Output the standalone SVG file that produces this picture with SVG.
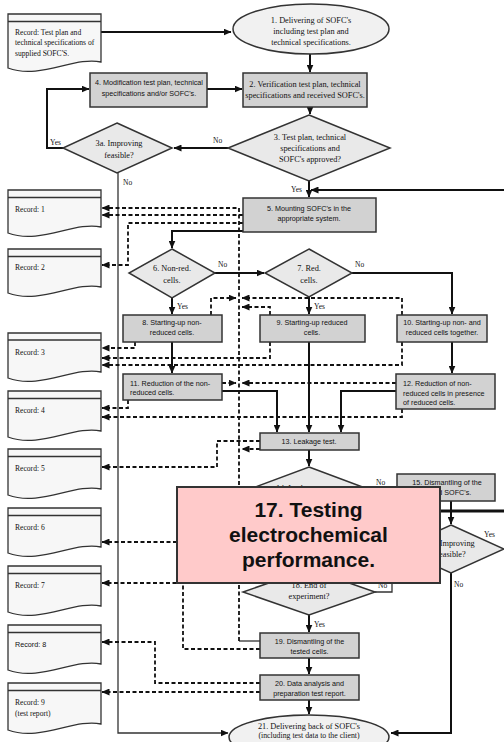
<svg xmlns="http://www.w3.org/2000/svg" width="504" height="742" viewBox="0 0 504 742">
<style>
.box{fill:#d2d2d2;stroke:#333;stroke-width:1.5}
.dia{fill:#e9e9e9;stroke:#333;stroke-width:1.5}
.ell{fill:#f1f1f1;stroke:#333;stroke-width:1.5}
.rec{fill:#f7f7f7;stroke:#333;stroke-width:1.3}
.hl{fill:none;stroke:#333;stroke-width:1.3}
.ln{fill:none;stroke:#111;stroke-width:2}
.thk{fill:none;stroke:#111;stroke-width:3}
.thin{fill:none;stroke:#333;stroke-width:1.3}
.dl{fill:none;stroke:#111;stroke-width:1.8;stroke-dasharray:4 2.5}
.sans{font-family:"Liberation Sans",Arial,sans-serif;font-size:7.2px;fill:#111}
.serif{font-family:"Liberation Serif","Times New Roman",serif;font-size:8.3px;fill:#111}
.rt{font-family:"Liberation Serif","Times New Roman",serif;font-size:7.6px;fill:#111}
.lbl{font-family:"Liberation Serif","Times New Roman",serif;font-size:7.5px;fill:#111}
.c{text-anchor:middle}
.big{font-family:"Liberation Sans",Arial,sans-serif;font-weight:bold;font-size:21px;fill:#111;text-anchor:middle}
</style>
<defs>
<marker id="ah" markerUnits="userSpaceOnUse" markerWidth="8" markerHeight="7" refX="7.5" refY="3.5" orient="auto">
<path d="M0,0 L8,3.5 L0,7 z" fill="#111"/>
</marker>
</defs>

<g id="connectors">
<path class="ln" d="M101,32 H231" marker-end="url(#ah)"/>
<path class="ln" d="M310,54 V72" marker-end="url(#ah)"/>
<path class="ln" d="M207,89 H242" marker-end="url(#ah)"/>
<path class="ln" d="M310,107 V114" marker-end="url(#ah)"/>
<path class="ln" d="M228,148 H174" marker-end="url(#ah)"/>
<path class="ln" d="M63,148 H47 V89 H89" marker-end="url(#ah)"/>
<path class="thin" d="M118,173 V733 H228" marker-end="url(#ah)"/>
<path class="ln" d="M309,181 V197" marker-end="url(#ah)"/>
<path class="ln" d="M504,190 H311" stroke-width="2.4" marker-end="url(#ah)"/>
<path class="ln" d="M243,231 H172 V248" marker-end="url(#ah)"/>
<path class="ln" d="M215,273 H264" marker-end="url(#ah)"/>
<path class="ln" d="M172,298 V314" marker-end="url(#ah)"/>
<path class="ln" d="M309,297 V314" marker-end="url(#ah)"/>
<path class="ln" d="M352,273 H452 V314" marker-end="url(#ah)"/>
<path class="ln" d="M172,342 V373" marker-end="url(#ah)"/>
<path class="ln" d="M452,342 V373" marker-end="url(#ah)"/>
<path class="ln" d="M309,342 V432" marker-end="url(#ah)"/>
<path class="ln" d="M222,391 H277 V432" marker-end="url(#ah)"/>
<path class="ln" d="M396,391 H341 V432" marker-end="url(#ah)"/>
<path class="ln" d="M309,450 V466" marker-end="url(#ah)"/>
<path class="ln" d="M384,495 H396" marker-end="url(#ah)"/>
<path class="ln" d="M451,501 V524" marker-end="url(#ah)"/>
<path class="thk" d="M440,511 H504"/>
<path class="ln" d="M451,573 V733 H391" marker-end="url(#ah)"/>
<path class="thin" d="M375,592 H392 V575"/>
<path class="ln" d="M309,615 V632" marker-end="url(#ah)"/>
<path class="ln" d="M309,658 V674" marker-end="url(#ah)"/>
<path class="ln" d="M309,700 V714" marker-end="url(#ah)"/>
<path class="thin" d="M260,641 H239"/>
<path class="dl" d="M239,641 V208 H102" marker-end="url(#ah)"/>
<path class="dl" d="M243,215 H102" marker-end="url(#ah)"/>
<path class="dl" d="M243,223 H128 V265 H102" marker-end="url(#ah)"/>
<path class="dl" d="M211,315 V298 H236" marker-end="url(#ah)"/>
<path class="dl" d="M402,315 V298 H242" marker-end="url(#ah)"/>
<path class="dl" d="M270,315 V307 H242" marker-end="url(#ah)"/>
<path class="dl" d="M135,342 V348 H102" marker-end="url(#ah)"/>
<path class="dl" d="M270,342 V358 H102" marker-end="url(#ah)"/>
<path class="dl" d="M402,342 V365 H102" marker-end="url(#ah)"/>
<path class="dl" d="M222,383 H236" marker-end="url(#ah)"/>
<path class="dl" d="M396,383 H242" marker-end="url(#ah)"/>
<path class="dl" d="M128,400 V408 H102" marker-end="url(#ah)"/>
<path class="dl" d="M402,409 V417 H102" marker-end="url(#ah)"/>
<path class="dl" d="M260,449 H242" marker-end="url(#ah)"/>
<path class="dl" d="M260,441 H217 V467 H102" marker-end="url(#ah)"/>
<path class="dl" d="M177,542 H102" marker-end="url(#ah)"/>
<path class="dl" d="M260,649 H183 V583 H102" marker-end="url(#ah)"/>
<path class="dl" d="M260,683 H155 V642 H102" marker-end="url(#ah)"/>
<path class="dl" d="M260,692 H102" marker-end="url(#ah)"/>
<text class="lbl" x="213" y="143">No</text>
<text class="lbl" x="50" y="145">Yes</text>
<text class="lbl" x="123" y="185">No</text>
<text class="lbl" x="291" y="192">Yes</text>
<text class="lbl" x="218" y="267">No</text>
<text class="lbl" x="177" y="309">Yes</text>
<text class="lbl" x="355" y="267">No</text>
<text class="lbl" x="314" y="309">Yes</text>
<text class="lbl" x="376" y="485">No</text>
<text class="lbl" x="484" y="537">Yes</text>
<text class="lbl" x="454" y="587">No</text>
<text class="lbl" x="378" y="588">No</text>
<text class="lbl" x="314" y="627">Yes</text>
</g>

<g id="rec0"><path class="rec" d="M8,14 H101 V62 C75,56 40,80 8,68 Z"/><path class="hl" d="M8,21.5 H101"/>
<text class="rt" x="15" y="35">Record: Test plan and</text><text class="rt" x="15" y="45">technical specifications of</text><text class="rt" x="15" y="56">supplied SOFC'S.</text></g>
<g id="rec1"><path class="rec" d="M8,190 H101 V227 C75,221 40,245 8,233 Z"/><path class="hl" d="M8,197.5 H101"/><text class="rt" x="15" y="212">Record: 1</text></g>
<g id="rec2"><path class="rec" d="M8,249 H101 V287 C75,281 40,305 8,293 Z"/><path class="hl" d="M8,256.5 H101"/><text class="rt" x="15" y="270">Record: 2</text></g>
<g id="rec3"><path class="rec" d="M8,333 H101 V372 C75,366 40,390 8,378 Z"/><path class="hl" d="M8,340 H101"/><text class="rt" x="15" y="355">Record: 3</text></g>
<g id="rec4"><path class="rec" d="M8,391 H101 V431 C75,425 40,449 8,437 Z"/><path class="hl" d="M8,398.5 H101"/><text class="rt" x="15" y="413">Record: 4</text></g>
<g id="rec5"><path class="rec" d="M8,449 H101 V489 C75,483 40,507 8,495 Z"/><path class="hl" d="M8,456.5 H101"/><text class="rt" x="15" y="471">Record: 5</text></g>
<g id="rec6"><path class="rec" d="M8,508 H101 V547 C75,541 40,565 8,553 Z"/><path class="hl" d="M8,515.5 H101"/><text class="rt" x="15" y="530">Record: 6</text></g>
<g id="rec7"><path class="rec" d="M8,566 H101 V606 C75,600 40,624 8,612 Z"/><path class="hl" d="M8,573.5 H101"/><text class="rt" x="15" y="588">Record: 7</text></g>
<g id="rec8"><path class="rec" d="M8,625 H101 V664 C75,658 40,682 8,670 Z"/><path class="hl" d="M8,632.5 H101"/><text class="sans" x="15" y="647">Record: 8</text></g>
<g id="rec9"><path class="rec" d="M8,683 H101 V724 C75,718 40,742 8,730 Z"/><path class="hl" d="M8,690.5 H101"/><text class="rt" x="15" y="705">Record: 9</text><text class="rt" x="15" y="716">(test report)</text></g>

<g id="n1"><ellipse class="ell" cx="311" cy="29" rx="78" ry="25"/>
<text class="serif c" x="311" y="23">1. Delivering of SOFC's</text><text class="serif c" x="311" y="34">including test plan and</text><text class="serif c" x="311" y="45">technical specifications.</text></g>
<g id="n2"><rect class="box" x="243" y="73" width="124" height="34"/>
<text class="serif c" x="305" y="87">2. Verification test plan, technical</text><text class="serif c" x="305" y="98">specifications and received SOFC's.</text></g>
<g id="n4"><rect class="box" x="90" y="73" width="117" height="34"/>
<text class="sans c" x="149" y="85">4. Modification test plan, technical</text><text class="sans c" x="149" y="96">specifications and/or SOFC's.</text></g>
<g id="n3"><path class="dia" d="M309,115 L390,148 L309,181 L228,148 Z"/>
<text class="serif c" x="310" y="140">3. Test plan, technical</text><text class="serif c" x="310" y="151">specifications and</text><text class="serif c" x="310" y="162">SOFC's approved?</text></g>
<g id="n3a"><path class="dia" d="M117,123 L172,148 L117,173 L63,148 Z"/>
<text class="serif c" x="119" y="146">3a. Improving</text><text class="serif c" x="119" y="158">feasible?</text></g>
<g id="n5"><rect class="box" x="243" y="198" width="133" height="34"/>
<text class="sans c" x="309" y="211">5. Mounting SOFC's in the</text><text class="sans c" x="309" y="221">appropriate system.</text></g>
<g id="n6"><path class="dia" d="M172,249 L215,273 L172,298 L129,273 Z"/>
<text class="serif c" x="172" y="271">6. Non-red.</text><text class="serif c" x="172" y="283">cells.</text></g>
<g id="n7"><path class="dia" d="M309,249 L352,273 L309,297 L265,273 Z"/>
<text class="serif c" x="309" y="271">7. Red.</text><text class="serif c" x="309" y="283">cells.</text></g>
<g id="n8"><rect class="box" x="123" y="315" width="99" height="27"/>
<text class="sans c" x="172" y="325">8. Starting-up non-</text><text class="sans c" x="172" y="335">reduced cells.</text></g>
<g id="n9"><rect class="box" x="260" y="315" width="105" height="27"/>
<text class="sans c" x="312" y="325">9. Starting-up reduced</text><text class="sans c" x="312" y="335">cells.</text></g>
<g id="n10"><rect class="box" x="397" y="315" width="90" height="27"/>
<text class="sans c" x="442" y="325">10. Starting-up non- and</text><text class="sans c" x="442" y="335">reduced cells together.</text></g>
<g id="n11"><rect class="box" x="123" y="374" width="99" height="26"/>
<text class="sans" x="130" y="386">11. Reduction of the non-</text><text class="sans" x="130" y="395">reduced cells.</text></g>
<g id="n12"><rect class="box" x="396" y="374" width="99" height="35"/>
<text class="sans" x="403" y="386">12. Reduction of non-</text><text class="sans" x="403" y="396">reduced cells in presence</text><text class="sans" x="403" y="405">of reduced cells.</text></g>
<g id="n13"><rect class="box" x="260" y="433" width="99" height="17"/>
<text class="sans c" x="309" y="444">13. Leakage test.</text></g>
<g id="n14"><path class="dia" d="M309,467 L384,495 L309,523 L234,495 Z"/>
<text class="serif c" x="303" y="491">14. Leakage test</text></g>
<g id="n15"><rect class="box" x="397" y="474" width="98" height="27"/>
<text class="sans c" x="447" y="485">15. Dismantling of the</text><text class="sans c" x="447" y="495">tested SOFC's.</text></g>
<g id="n16"><path class="dia" d="M451,525 L504,549 L451,573 L398,549 Z"/>
<text class="serif c" x="451" y="546">16. Improving</text><text class="serif c" x="451" y="557">feasible?</text></g>
<g id="n18"><path class="dia" d="M309,569 L375,592 L309,615 L243,592 Z"/>
<text class="serif c" x="309" y="588">18. End of</text><text class="serif c" x="309" y="599">experiment?</text></g>
<g id="n19"><rect class="box" x="260" y="633" width="99" height="25"/>
<text class="sans c" x="309.5" y="644">19. Dismantling of the</text><text class="sans c" x="309.5" y="654">tested cells.</text></g>
<g id="n20"><rect class="box" x="260" y="675" width="99" height="25"/>
<text class="sans c" x="309.5" y="686">20. Data analysis and</text><text class="sans c" x="309.5" y="696">preparation test report.</text></g>
<g id="n21"><ellipse class="ell" cx="309" cy="737" rx="80" ry="22"/>
<text class="serif c" x="309" y="729">21. Delivering back of SOFC's</text><text class="serif c" x="309" y="738" style="font-size:7.8px">(including test data to the client)</text></g>
<g id="n17"><rect x="177" y="487" width="263" height="96" fill="#ffcaca" stroke="#333" stroke-width="2"/>
<text class="big" x="308.5" y="517">17. Testing</text><text class="big" x="308.5" y="542">electrochemical</text><text class="big" x="308.5" y="567">performance.</text></g>
</svg>
